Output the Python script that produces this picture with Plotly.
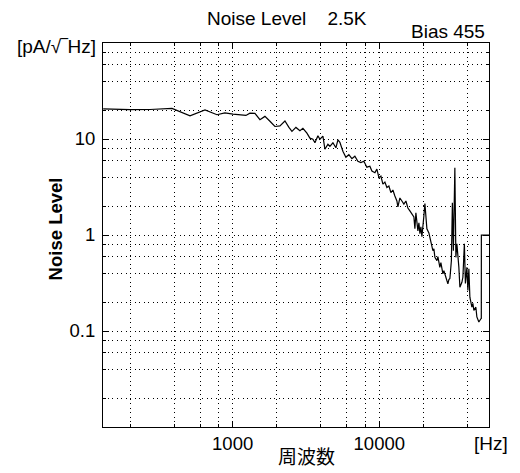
import plotly.graph_objects as go

# Frequency [Hz] and noise level [pA/sqrt(Hz)]
freq = [131, 200, 273, 386, 512, 648, 782, 886, 1005, 1121, 1232, 1312, 1419, 1535,
        1660, 1796, 1942, 2101, 2273, 2420, 2537, 2701, 2876, 3014, 3210, 3365, 3526,
        3640, 3815, 3937, 4126, 4258, 4463, 4604, 4828, 5060, 5223, 5385, 5645, 5917,
        6202, 6501, 6814, 7143, 7487, 7848, 8227, 8624, 8905, 9335, 9630, 9940, 10254,
        10580, 10918, 11266, 11624, 11995, 12378, 12772, 13180, 13390, 13816, 14256,
        14712, 15181, 15667, 16165, 16681, 17214, 17486, 17763, 18331, 18620, 18916,
        19214, 19520, 19828, 20140, 20460, 20780, 21110, 21780, 22475, 23195, 23562,
        23934, 24700, 25090, 25880, 26300, 27140, 27570, 28445, 29350, 29820, 30290,
        31010, 31500, 32000, 32750, 33280, 33810, 34880, 35440, 36570, 37150, 38030,
        38640, 39560, 40180, 40810, 41460, 42780, 43450, 44150, 45550, 46270, 47740,
        49270, 49600, 49650, 60500]
noise = [20.6, 20.2, 20.3, 20.8, 17.4, 20.1, 17.9, 18.7, 18.2, 17.8, 17.6, 18.6, 18.5,
         15.9, 17.2, 15.3, 13.5, 13.7, 15.4, 13.2, 12.0, 13.2, 12.2, 12.9, 11.5, 10.2,
         9.93, 9.13, 10.8, 9.93, 10.7, 7.82, 8.81, 8.40, 9.13, 8.10, 9.81, 9.24, 7.46,
         6.46, 6.86, 6.23, 6.62, 5.87, 5.67, 5.87, 5.09, 5.21, 4.63, 4.46, 4.85, 3.96,
         4.11, 3.39, 3.56, 3.12, 3.24, 2.77, 2.94, 2.55, 2.26, 1.96, 2.43, 2.26, 2.10,
         2.26, 1.91, 1.78, 1.66, 1.54, 1.16, 1.70, 1.105, 1.34, 1.03, 1.22, 0.958, 1.40,
         1.58, 2.13, 1.58, 1.16, 1.05, 0.871, 0.686, 0.719, 0.585, 0.540, 0.595, 0.460,
         0.515, 0.393, 0.426, 0.363, 0.310, 0.343, 0.352, 0.540, 2.17, 0.686, 5.03,
         0.585, 0.811, 0.460, 0.286, 0.322, 0.363, 0.811, 0.312, 0.460, 0.264, 0.446,
         0.225, 0.177, 0.194, 0.164, 0.177, 0.140, 0.124, 0.134, 0.135, 0.998, 0.998]

x_tick_vals = [1000, 10000]
x_tick_text = ["1000", "10000"]
y_tick_vals = [0.1, 1, 10]
y_tick_text = ["0.1", "1", "10"]
x_minor_vals = [200, 400, 600, 800, 2000, 4000, 6000, 8000, 20000, 40000]
y_minor_vals = [0.02, 0.04, 0.06, 0.08, 0.2, 0.4, 0.6, 0.8, 2, 4, 6, 8, 20, 40, 60, 80]

FONT = "Liberation Sans, Arial, sans-serif"
DOT = "1px,3.5px"

fig = go.Figure()
fig.add_trace(go.Scatter(x=freq, y=noise, mode="lines",
                         line=dict(color="black", width=1.2), showlegend=False,
                         cliponaxis=True))

axis_common = dict(
    type="log", showline=True, linecolor="black", linewidth=1, mirror="allticks",
    ticks="inside", ticklen=6, tickcolor="black", tickwidth=1,
    showgrid=True, gridcolor="black", gridwidth=1, griddash=DOT, zeroline=False,
    tickfont=dict(family=FONT, size=18.5, color="black"),
)

fig.update_xaxes(**axis_common, range=[2.116, 4.748], tickmode="array",
                 tickvals=x_tick_vals, ticktext=x_tick_text,
                 minor=dict(tickmode="array", tickvals=x_minor_vals, ticks="inside",
                            ticklen=3, tickcolor="black", showgrid=True,
                            gridcolor="black", gridwidth=1, griddash=DOT))
fig.update_yaxes(**axis_common, range=[-2, 2], tickmode="array",
                 tickvals=y_tick_vals, ticktext=y_tick_text, ticklabelstandoff=3,
                 minor=dict(tickmode="array", tickvals=y_minor_vals, ticks="inside",
                            ticklen=3, tickcolor="black", showgrid=True,
                            gridcolor="black", gridwidth=1, griddash=DOT))

ann_font = dict(family=FONT, size=19, color="black")
annotations = [
    dict(text="Noise Level\u00a0\u00a0\u00a0\u00a02.5K", x=0.477, y=1.064,
         xanchor="center", yanchor="middle", borderpad=0),
    dict(text="Bias 455", x=0.995, y=1.029, xanchor="right", yanchor="middle"),
    dict(text="[pA/√‾Hz]", x=-0.013, y=0.990, xanchor="right", yanchor="middle"),
    dict(text="<b>Noise Level</b>", x=-0.122, y=0.517, xanchor="center", yanchor="middle",
         textangle=-90, font=dict(family=FONT, size=18.5, color="black")),
    dict(text="周波数", x=0.526, y=-0.0755, xanchor="center", yanchor="middle",
         font=dict(family="Noto Sans CJK JP", size=19, color="black")),
    dict(text="[Hz]", x=1.005, y=-0.0417, xanchor="center", yanchor="middle"),
]
for a in annotations:
    a.setdefault("font", ann_font)
    fig.add_annotation(xref="paper", yref="paper", showarrow=False, **a)

# page body adds an 8px offset; margins chosen so the plot area lands at 103..489 x 43..427
fig.update_layout(
    width=512, height=465,
    margin=dict(l=95, r=31, t=35, b=46),
    paper_bgcolor="white", plot_bgcolor="white",
    font=dict(family=FONT, color="black"),
)

fig.write_html("out.html")
